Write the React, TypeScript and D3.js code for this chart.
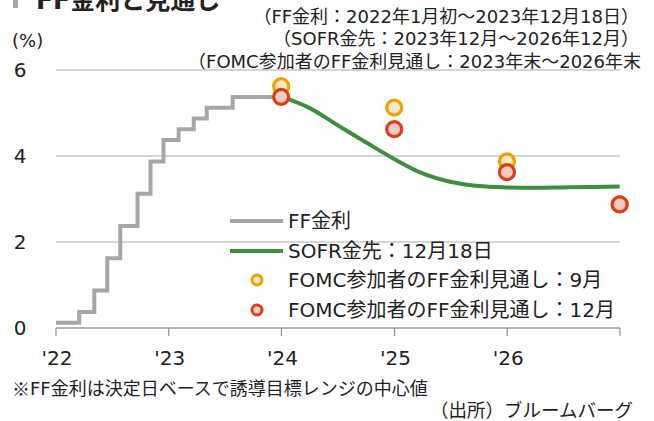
import React from "react";
import * as d3 from "d3";

const ffDates = ["2022-01-01","2022-03-17","2022-05-05","2022-06-16","2022-07-28","2022-09-22","2022-11-03","2022-12-15","2023-02-02","2023-03-23","2023-05-04","2023-07-27","2023-12-18"];
const ffValues = [0.125,0.375,0.875,1.625,2.375,3.125,3.875,4.375,4.625,4.875,5.125,5.375,5.375];

const sofrDates = ["2023-12-31","2024-03-31","2024-06-30","2024-09-30","2024-12-31","2025-03-31","2025-06-30","2025-09-30","2025-12-31","2026-03-31","2026-06-30","2026-09-30","2026-12-31"];
const sofrValues = [5.38,5.12,4.72,4.32,3.93,3.6,3.4,3.3,3.27,3.26,3.27,3.28,3.29];

const fomcDates = ["2023-12-31","2024-12-31","2025-12-31","2026-12-31"];
const fomcSep = [5.625,5.125,3.875,2.875];
const fomcDec = [5.375,4.625,3.625,2.875];

const yTicks = [0,2,4,6];
const xTickYears = [2022,2023,2024,2025,2026,2027];
const xTickLabels = ["'22","'23","'24","'25","'26",""];

const title = "FF金利と見通し";
const subtitles = ["（FF金利：2022年1月初～2023年12月18日）","（SOFR金先：2023年12月～2026年12月）","（FOMC参加者のFF金利見通し：2023年末～2026年末"];
const legendLabels = ["FF金利","SOFR金先：12月18日","FOMC参加者のFF金利見通し：9月","FOMC参加者のFF金利見通し：12月"];
const noteMark = "※";
const note = "FF金利は決定日ベースで誘導目標レンジの中心値";
const source = "（出所）ブルームバーグ";

const W = 654, H = 421;
const FONT = "'DejaVu Sans', 'Noto Sans CJK JP', sans-serif";
const GRAY = "#a6a6a6", GREEN = "#3f8f3f";
const ORANGE = "#f0a000", ORANGE_FILL = "#fde9c4";
const RED = "#d9401a", RED_FILL = "#f8cac4";

export default function App() {
  const parse = d3.utcParse("%Y-%m-%d");
  const x = d3.scaleUtc().domain([new Date(Date.UTC(2022,0,1)), new Date(Date.UTC(2027,0,1))]).range([56, 620]);
  const y = d3.scaleLinear().domain([0, 6]).range([328, 70]);

  const ff = ffDates.map((d, i) => ({ d: parse(d)!, v: ffValues[i] }));
  const sofr = sofrDates.map((d, i) => ({ d: parse(d)!, v: sofrValues[i] }));
  const ffLine = d3.line<any>().x(p => x(p.d)).y(p => y(p.v)).curve(d3.curveStepAfter)(ff)!;
  const sofrLine = d3.line<any>().x(p => x(p.d)).y(p => y(p.v)).curve(d3.curveMonotoneX)(sofr)!;

  const dot = (cx: number, cy: number, stroke: string, fill: string, key: string) => (
    <circle key={key} cx={cx} cy={cy} r={7.5} fill={fill} stroke={stroke} strokeWidth={3.2} />
  );

  const lx0 = 230, lx1 = 283, ltx = 288;
  const rows = [221, 251, 280, 310];
  const subX = [639, 639, 641];

  return (
    <svg width={W} height={H} style={{ position: "absolute", left: 0, top: 0, background: "#fff" }} fontFamily={FONT}>
      <rect x={0} y={0} width={W} height={H} fill="#fff" />
      <rect x={13} y={-10} width={5} height={18} fill="#a6a6a6" />
      <text x={36} y={9} fontSize={25} fontWeight="bold" fill="#222">{title}</text>
      {subtitles.map((s, i) => (
        <text key={s} x={subX[i]} y={16 + i * 22.5} fontSize={18} textAnchor="end" dominantBaseline="central" fill="#222">{s}</text>
      ))}
      <text x={12} y={40} fontSize={18} dominantBaseline="central" fill="#222">(%)</text>
      {yTicks.filter(t => t > 0).map(t => (
        <line key={t} x1={56} x2={620} y1={y(t)} y2={y(t)} stroke="#c8c8c8" strokeWidth={1.3} />
      ))}
      {yTicks.map(t => (
        <text key={t} x={20} y={y(t)} fontSize={20} textAnchor="middle" dominantBaseline="central" fill="#222">{t}</text>
      ))}
      <line x1={56} x2={620} y1={328} y2={328} stroke="#999" strokeWidth={1.3} />
      {xTickYears.map((yr, i) => {
        const px = x(new Date(Date.UTC(yr, 0, 1)));
        return (
          <g key={yr}>
            <line x1={px} x2={px} y1={328} y2={336} stroke="#999" strokeWidth={1.3} />
            {xTickLabels[i] && <text x={px + 1} y={358} fontSize={20} textAnchor="middle" dominantBaseline="central" fill="#222">{xTickLabels[i]}</text>}
          </g>
        );
      })}
      <path d={ffLine} fill="none" stroke={GRAY} strokeWidth={4} />
      <path d={sofrLine} fill="none" stroke={GREEN} strokeWidth={4} />
      {fomcDates.map((d, i) => dot(x(parse(d)!), y(fomcSep[i]), ORANGE, ORANGE_FILL, "s" + i))}
      {fomcDates.map((d, i) => dot(x(parse(d)!), y(fomcDec[i]), RED, RED_FILL, "d" + i))}
      <line x1={lx0} x2={lx1} y1={rows[0]} y2={rows[0]} stroke={GRAY} strokeWidth={4} />
      <line x1={lx0} x2={lx1} y1={rows[1]} y2={rows[1]} stroke={GREEN} strokeWidth={4} />
      <circle cx={257} cy={rows[2]} r={5} fill={ORANGE_FILL} stroke={ORANGE} strokeWidth={3} />
      <circle cx={257} cy={rows[3]} r={5} fill={RED_FILL} stroke={RED} strokeWidth={3} />
      {legendLabels.map((l, i) => (
        <text key={l} x={ltx} y={rows[i]} fontSize={20} dominantBaseline="central" fill="#222">{l}</text>
      ))}
      <text x={12} y={388} fontSize={18} dominantBaseline="central" fill="#222">
        <tspan fontFamily="'Noto Sans CJK JP', sans-serif">{noteMark}</tspan>{note}
      </text>
      <text x={633} y={410} fontSize={18.5} textAnchor="end" dominantBaseline="central" fill="#222">{source}</text>
    </svg>
  );
}
